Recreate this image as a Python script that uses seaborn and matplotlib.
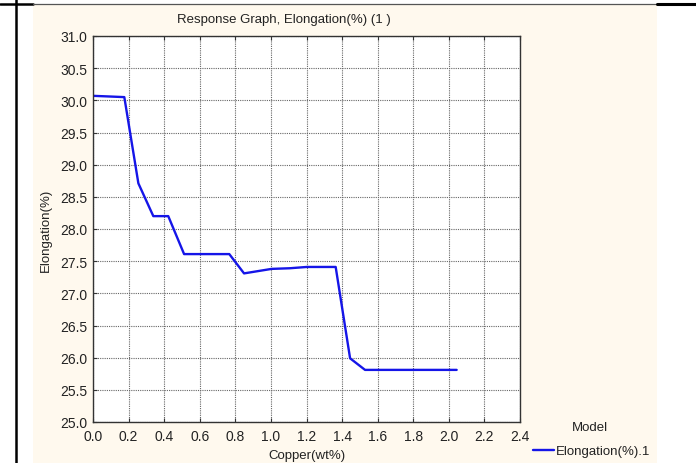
import matplotlib
matplotlib.use("Agg")
import matplotlib.pyplot as plt
import seaborn as sns
import pandas as pd
from matplotlib.patches import Rectangle
from matplotlib.lines import Line2D

copper = [0.0, 0.09, 0.176, 0.255, 0.339, 0.423, 0.512, 0.766, 0.849, 1.004, 1.107, 1.201, 1.364, 1.445, 1.529, 2.044]
elongation = [30.07, 30.06, 30.05, 28.71, 28.20, 28.20, 27.61, 27.61, 27.31, 27.38, 27.39, 27.41, 27.41, 25.99, 25.81, 25.81]
x_ticks = [0.0, 0.2, 0.4, 0.6, 0.8, 1.0, 1.2, 1.4, 1.6, 1.8, 2.0, 2.2, 2.4]
y_ticks = [25.0, 25.5, 26.0, 26.5, 27.0, 27.5, 28.0, 28.5, 29.0, 29.5, 30.0, 30.5, 31.0]
series_name = "Elongation(%).1"

sns.set_theme(style="white")
plt.rcParams['font.family'] = ['Liberation Sans', 'DejaVu Sans']

W, H = 696, 464
fig = plt.figure(figsize=(W / 100, H / 100), dpi=100)
fig.patch.set_facecolor("white")

# cream panel
fig.patches.append(Rectangle((33 / W, 0), (657 - 33) / W, 1 - 5 / H, transform=fig.transFigure,
                             facecolor="#FFF9EE", edgecolor="none", zorder=-10))
# frame lines
fig.add_artist(Line2D([16 / W, 16 / W], [0, 1], transform=fig.transFigure, color="black", lw=1.8, zorder=-5))
fig.add_artist(Line2D([0, 33 / W], [1 - 5 / H, 1 - 5 / H], transform=fig.transFigure, color="black", lw=1.8, zorder=-5))
fig.add_artist(Line2D([33 / W, 657 / W], [1 - 4.5 / H, 1 - 4.5 / H], transform=fig.transFigure, color="#555555", lw=0.9, zorder=-5))
fig.add_artist(Line2D([657 / W, 1], [1 - 5 / H, 1 - 5 / H], transform=fig.transFigure, color="black", lw=2.2, zorder=-5))

ax = fig.add_axes([93 / W, 1 - 423 / H, (520 - 93) / W, (423 - 37) / H])
ax.set_zorder(5)
ax.set_facecolor("white")

df = pd.DataFrame({"Copper(wt%)": copper, "Elongation(%)": elongation})
sns.lineplot(data=df, x="Copper(wt%)", y="Elongation(%)", ax=ax, color="#1515E8",
             linewidth=1.7, label=series_name, sort=False, estimator=None)

ax.set_xlim(0, 2.4)
ax.set_ylim(25, 31)
ax.set_xticks(x_ticks)
ax.set_yticks(y_ticks)
ax.set_xticklabels([f"{v:.1f}" for v in x_ticks], fontsize=10, color="#222222")
ax.set_yticklabels([f"{v:.1f}" for v in y_ticks], fontsize=10, color="#222222")
ax.grid(True, linestyle=(0, (1, 1)), color="#666666", linewidth=0.8)
ax.tick_params(axis="both", direction="in", length=3, width=0.8, color="#333333",
               top=True, bottom=True, left=True, right=False)
ax.tick_params(axis="x", pad=5)
ax.tick_params(axis="y", pad=4)
for s in ax.spines.values():
    s.set_color("#333333")
    s.set_linewidth(1.0)
    s.set_visible(True)

ax.set_xlabel("Copper(wt%)", fontsize=9.5, color="#222222", labelpad=4.5)
ax.set_ylabel("Elongation(%)", fontsize=9.5, color="#222222", labelpad=6)

fig.text(284 / W, 1 - 20 / H, "Response Graph, Elongation(%) (1 )", fontsize=9.5,
         ha="center", va="center", color="#222222")

fig.text(590 / W, 1 - 428 / H, "Model", fontsize=9.5, ha="center", va="center", color="#222222")
leg = ax.legend(frameon=False, loc="center left",
                bbox_to_anchor=(533 / W, 1 - 452 / H), bbox_transform=fig.transFigure,
                fontsize=9.5, handlelength=1.6, handletextpad=0.1,
                borderaxespad=0, borderpad=0)
for t in leg.get_texts():
    t.set_color("#222222")

fig.savefig("out.png", dpi=100, facecolor=fig.get_facecolor())
